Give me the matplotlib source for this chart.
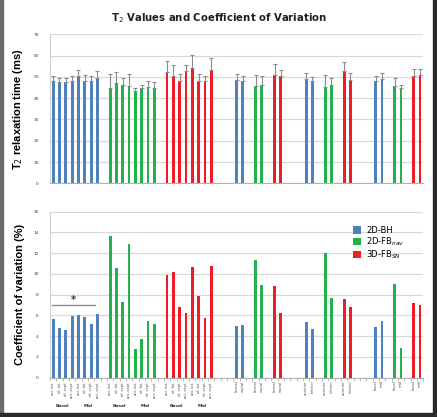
import matplotlib
matplotlib.use('Agg')
import matplotlib.pyplot as plt
from matplotlib.patches import Rectangle
from matplotlib.transforms import blended_transform_factory

# series of each category slot ('' = empty slot between groups)
seg = ['ant.-lat.', 'inf.-lat.', 'inf.-sept.', 'ant.-sept.'] * 2
par = ['BH', 'BH', '', 'FB', 'FB', '', 'SN', 'SN']
serie_slots = ['BH'] * 8 + [''] + ['FB'] * 8 + [''] + ['SN'] * 8 + [''] * 3 + par + [''] * 3 + par + [''] * 3 + par

rotulos = (seg + [''] + seg + [''] + seg + [''] * 3
           + ['lateral', 'septal', '', 'lateral', 'septal', '', 'lateral', 'septal'] + [''] * 3
           + ['anterior', 'inferior', '', 'anterior', 'inferior', '', 'anterior', 'inferior'] + [''] * 3
           + ['basal', 'mid', '', 'basal', 'mid', '', 'basal', 'mid'])

# T2 (ms) media e desvio
t2_bh = [48.1, 47.8, 47.6, 48.1, 50.4, 48.1, 48.1, 49.5, 48.5, 48.2, 48.9, 47.9, 48.1, 48.9]
t2_bh_sd = [2.3, 1.8, 1.7, 2.5, 3.0, 2.9, 2.5, 3.1, 2.9, 2.4, 2.8, 2.2, 2.5, 2.9]
t2_fb = [44.8, 47.0, 46.2, 45.7, 43.4, 44.8, 45.3, 44.8, 45.7, 46.0, 45.4, 46.2, 45.7, 44.6]
t2_fb_sd = [6.7, 5.1, 3.4, 5.8, 1.2, 1.6, 2.6, 2.6, 5.0, 4.3, 5.3, 3.4, 3.9, 1.4]
t2_sn = [52.3, 50.4, 48.1, 52.6, 54.3, 47.9, 47.9, 53.2, 50.7, 50.3, 52.8, 48.4, 50.6, 50.7]
t2_sn_sd = [5.3, 5.3, 3.3, 3.0, 5.8, 3.6, 2.7, 5.8, 5.2, 3.1, 4.0, 3.3, 3.3, 3.2]

# coeficiente de variacao (%)
cv_bh = [5.63, 4.76, 4.6, 5.95, 6.08, 5.85, 5.18, 6.14, 4.98, 5.05, 5.4, 4.73, 4.92, 5.47]
cv_fb = [13.7, 10.58, 7.3, 12.93, 2.73, 3.76, 5.47, 5.14, 11.32, 8.94, 12.06, 7.72, 9.0, 2.83]
cv_sn = [9.9, 10.16, 6.85, 6.24, 10.7, 7.88, 5.79, 10.77, 8.87, 6.24, 7.56, 6.78, 7.2, 7.0]

nomes = {'BH': '2D-BH', 'FB': '2D-FB$_{nav}$', 'SN': '3D-FB$_{SN}$'}
cores = {'BH': '#4F81BD', 'FB': '#22B14C', 'SN': '#EE1C25'}
t2 = {'BH': (t2_bh, t2_bh_sd), 'FB': (t2_fb, t2_fb_sd), 'SN': (t2_sn, t2_sn_sd)}
cv = {'BH': cv_bh, 'FB': cv_fb, 'SN': cv_sn}

plt.rcParams['font.family'] = ['DejaVu Sans']
fonte_estreita = ['Liberation Sans Narrow', 'Liberation Sans', 'DejaVu Sans']

fig = plt.figure(figsize=(4.37, 4.17), dpi=100)
ax1 = fig.add_axes([0.1144, 0.5604, 0.854, 0.3573])
ax2 = fig.add_axes([0.1144, 0.0942, 0.854, 0.3981])

largura = 0.45
for s in ['BH', 'FB', 'SN']:
    pos = [i for i, g in enumerate(serie_slots) if g == s]
    med, sd = t2[s]
    ax1.bar(pos, med, largura, color=cores[s], zorder=3)
    ax1.errorbar(pos, med, yerr=[[0] * len(sd), sd], fmt='none', ecolor='#8C8C8C',
                 elinewidth=0.8, capsize=1.3, capthick=0.8, zorder=4)
    ax2.bar(pos, cv[s], largura, color=cores[s], zorder=3, label=nomes[s])

for ax in [ax1, ax2]:
    ax.set_xlim(-0.5, len(serie_slots) - 0.5)
    ax.grid(axis='y', color='#D9D9D9', linewidth=0.9, zorder=0)
    for lado in ['top', 'right']:
        ax.spines[lado].set_visible(False)
    ax.spines['left'].set_color('#D0D0D0')
    ax.spines['bottom'].set_color('#B0B0B0')
    ax.tick_params(axis='y', length=0, labelsize=3.2, labelcolor='#404040', pad=8)

ax1.set_ylim(0, 70)
ax1.set_yticks(range(0, 71, 10))
ax1.set_xticks([])
ax1.set_ylabel('T$_2$ relaxation time (ms)', fontsize=8, fontweight='bold', labelpad=6,
               family=fonte_estreita)

ax2.set_ylim(0, 16)
ax2.set_yticks(range(0, 17, 2))
ax2.set_xticks(range(len(rotulos)))
ax2.set_xticklabels(rotulos, rotation=90, fontsize=2.6, color='#505050')
ax2.set_xticks([i + 0.5 for i in range(-1, len(rotulos))], minor=True)
ax2.tick_params(axis='x', which='major', length=0, pad=2)
ax2.tick_params(axis='x', which='minor', length=2, color='#B0B0B0')
ax2.set_ylabel('Coefficient of variation (%)', fontsize=8, fontweight='bold', labelpad=6,
               family=fonte_estreita)

# Basal / Mid
tr = blended_transform_factory(ax2.transData, ax2.transAxes)
for inicio in [0, 9, 18]:
    ax2.text(inicio + 1.5, -0.17, 'Basal', transform=tr, fontsize=3.2, fontweight='bold',
             ha='center', va='center', color='#303030')
    ax2.text(inicio + 5.5, -0.17, 'Mid', transform=tr, fontsize=3.2, fontweight='bold',
             ha='center', va='center', color='#303030')

# asterisco
ax2.plot([-0.2, 6.6], [7.0, 7.0], color='#909090', linewidth=1, zorder=4)
ax2.text(3.2, 7.05, '*', fontsize=7, fontweight='bold', ha='center', va='bottom', color='#303030')

ax2.legend(loc='upper right', bbox_to_anchor=(0.97, 0.96), fontsize=6, frameon=False,
           handlelength=1.0, handleheight=1.0, handletextpad=0.6, labelspacing=0.05)

fig.text(0.5, 0.957, 'T$_2$ Values and Coefficient of Variation', ha='center', va='center',
         fontsize=7.3, fontweight='bold', color='#202020')

# moldura
fig.patches.append(Rectangle((0, 0), 3 / 437, 1, transform=fig.transFigure, color='#6A6A6A', zorder=10))
fig.patches.append(Rectangle((0, 0), 1, 4 / 417, transform=fig.transFigure, color='#2A2A2A', zorder=10))
fig.patches.append(Rectangle((433 / 437, 0), 4 / 437, 1, transform=fig.transFigure, color='#2A2A2A', zorder=10))

fig.savefig('out.png', dpi=100)
